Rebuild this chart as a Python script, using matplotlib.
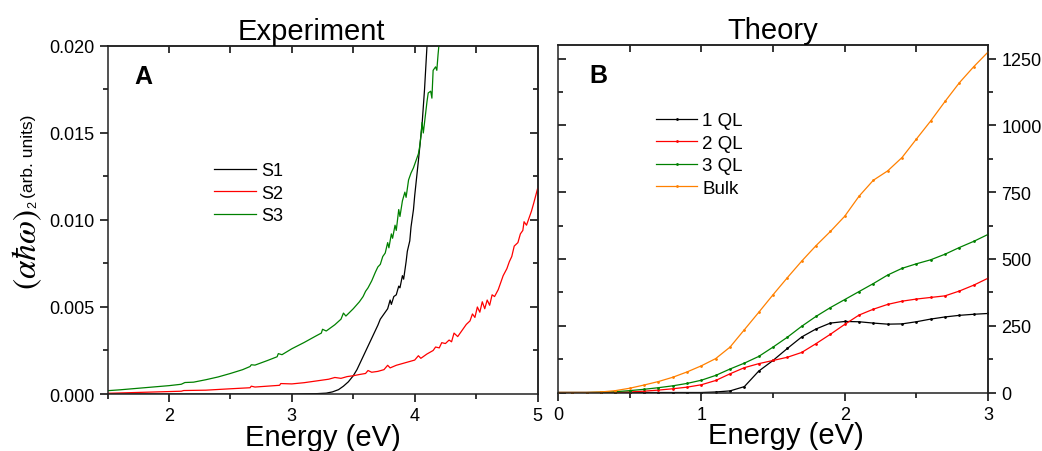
import matplotlib
matplotlib.use("Agg")
import matplotlib.pyplot as plt
from matplotlib.ticker import MultipleLocator, FormatStrFormatter

plt.rcParams['font.family'] = ['Liberation Sans', 'DejaVu Sans']
plt.rcParams['axes.linewidth'] = 1.1
plt.rcParams['axes.edgecolor'] = '#222222'

# ---------------- experiment data ----------------
s1_e = [1.50, 3.00, 3.20, 3.28, 3.33, 3.38, 3.42, 3.46, 3.50, 3.53, 3.56, 3.59,
        3.62, 3.65, 3.68, 3.70, 3.72, 3.74, 3.76, 3.78, 3.80, 3.81, 3.83, 3.85,
        3.87, 3.88, 3.90, 3.91, 3.93, 3.94, 3.96, 3.97, 3.99, 4.00, 4.03, 4.06,
        4.08, 4.10, 4.11]
s1_y = [0.0, 0.0, 0.00002, 0.00005, 0.00012, 0.00025, 0.00045, 0.00070, 0.00105,
        0.00140, 0.00185, 0.00230, 0.00275, 0.00320, 0.00365, 0.00395, 0.00430,
        0.00450, 0.00470, 0.00490, 0.00540, 0.00515, 0.00560, 0.00570, 0.00620,
        0.00610, 0.00680, 0.00660, 0.00760, 0.00820, 0.00880, 0.00960, 0.01060,
        0.01140, 0.01340, 0.01550, 0.01750, 0.02000, 0.02100]

s2_e = [1.50, 1.70, 1.90, 2.10, 2.12, 2.30, 2.50, 2.66, 2.67, 2.70, 2.90, 2.91,
        3.00, 3.10, 3.20, 3.30, 3.35, 3.40, 3.45, 3.50, 3.55, 3.60, 3.62, 3.65,
        3.70, 3.75, 3.78, 3.80, 3.85, 3.90, 3.95, 4.00, 4.03, 4.05, 4.10, 4.15,
        4.17, 4.20, 4.22, 4.25, 4.28, 4.30, 4.32, 4.35, 4.38, 4.40, 4.42, 4.45,
        4.47, 4.49, 4.51, 4.53, 4.55, 4.57, 4.59, 4.61, 4.63, 4.65, 4.68, 4.70,
        4.72, 4.75, 4.77, 4.79, 4.81, 4.84, 4.86, 4.88, 4.89, 4.91, 4.93, 4.95,
        4.97, 5.00]
s2_y = [0.00004, 0.00008, 0.00012, 0.00016, 0.00020, 0.00022, 0.00030, 0.00036,
        0.00045, 0.00040, 0.00050, 0.00060, 0.00058, 0.00065, 0.00075, 0.00085,
        0.00095, 0.00090, 0.00100, 0.00105, 0.00112, 0.00118, 0.00135, 0.00125,
        0.00130, 0.00140, 0.00165, 0.00150, 0.00165, 0.00175, 0.00185, 0.00195,
        0.00220, 0.00205, 0.00230, 0.00250, 0.00270, 0.00265, 0.00295, 0.00290,
        0.00310, 0.00300, 0.00350, 0.00330, 0.00360, 0.00380, 0.00400, 0.00420,
        0.00460, 0.00440, 0.00500, 0.00470, 0.00530, 0.00490, 0.00540, 0.00510,
        0.00570, 0.00560, 0.00600, 0.00640, 0.00680, 0.00720, 0.00760, 0.00790,
        0.00850, 0.00870, 0.00920, 0.00940, 0.00990, 0.00970, 0.01010, 0.01050,
        0.01100, 0.01180]

s3_e = [1.50, 1.60, 1.70, 1.80, 1.90, 2.00, 2.10, 2.13, 2.20, 2.30, 2.40, 2.50,
        2.60, 2.66, 2.67, 2.70, 2.80, 2.88, 2.89, 2.92, 3.00, 3.10, 3.20, 3.24,
        3.25, 3.28, 3.35, 3.40, 3.42, 3.44, 3.50, 3.55, 3.58, 3.60, 3.62, 3.65,
        3.68, 3.70, 3.72, 3.74, 3.76, 3.78, 3.79, 3.81, 3.82, 3.84, 3.85, 3.87,
        3.88, 3.90, 3.92, 3.93, 3.95, 3.97, 3.99, 4.01, 4.03, 4.04, 4.05, 4.06,
        4.07, 4.08, 4.10, 4.11, 4.13, 4.14, 4.15, 4.17, 4.18, 4.19, 4.21]
s3_y = [0.00019, 0.00024, 0.00030, 0.00036, 0.00042, 0.00048, 0.00056, 0.00066,
        0.00068, 0.00082, 0.00098, 0.00118, 0.00140, 0.00158, 0.00168, 0.00166,
        0.00192, 0.00214, 0.00232, 0.00226, 0.00260, 0.00296, 0.00335, 0.00350,
        0.00372, 0.00362, 0.00398, 0.00430, 0.00465, 0.00448, 0.00490, 0.00530,
        0.00560, 0.00590, 0.00610, 0.00650, 0.00700, 0.00730, 0.00745, 0.00790,
        0.00810, 0.00870, 0.00840, 0.00920, 0.00895, 0.00970, 0.00940, 0.01060,
        0.01020, 0.01110, 0.01160, 0.01130, 0.01230, 0.01270, 0.01300, 0.01340,
        0.01380, 0.01420, 0.01480, 0.01560, 0.01500, 0.01560, 0.01680, 0.01730,
        0.01740, 0.01700, 0.01860, 0.01880, 0.01860, 0.01950, 0.02100]

# ---------------- theory data ----------------
th_e = [0.0, 0.1, 0.2, 0.3, 0.4, 0.5, 0.6, 0.7, 0.8, 0.9, 1.0, 1.1, 1.2, 1.3, 1.4,
        1.5, 1.6, 1.7, 1.8, 1.9, 2.0, 2.1, 2.2, 2.3, 2.4, 2.5, 2.6, 2.7, 2.8, 2.9, 3.0]
ql1 = [0, 0, 0, 0, 0, 0, 0, 0, 0, 0, 0, 2, 6, 22, 80, 120, 165, 208, 238, 260,
       266, 265, 260, 256, 257, 265, 275, 283, 289, 293, 296]
ql2 = [0, 0, 0, 0, 0, 2, 5, 9, 14, 20, 29, 45, 70, 93, 108, 120, 132, 150, 183,
       218, 255, 290, 312, 330, 342, 350, 356, 362, 380, 402, 428]
ql3 = [0, 0, 0, 1, 3, 7, 12, 18, 25, 34, 46, 64, 88, 110, 135, 170, 207, 248, 285,
       318, 348, 378, 408, 440, 465, 482, 497, 518, 543, 566, 592]
bulk = [0, 0, 0, 2, 7, 16, 28, 41, 57, 77, 100, 127, 170, 235, 300, 366, 430, 492,
        550, 603, 660, 735, 795, 830, 880, 949, 1017, 1090, 1160, 1220, 1275]

BLACK, RED, GREEN, ORANGE = '#000000', '#ff0000', '#008000', '#ff8000'

fig = plt.figure(figsize=(10.42, 4.52), dpi=100)
ax1 = fig.add_axes([0.1032, 0.1261, 0.4127, 0.770])
ax2 = fig.add_axes([0.5355, 0.1294, 0.4127, 0.768])

# ---------- panel A ----------
ax1.plot(s1_e, s1_y, color=BLACK, lw=0.9, label='S1')
ax1.plot(s2_e, s2_y, color=RED, lw=0.9, label='S2')
ax1.plot(s3_e, s3_y, color=GREEN, lw=0.9, label='S3')
ax1.set_xlim(1.5, 5)
ax1.set_ylim(0, 0.020)
ax1.set_xticks([2, 3, 4, 5])
ax1.xaxis.set_minor_locator(MultipleLocator(0.5))
ax1.yaxis.set_major_locator(MultipleLocator(0.005))
ax1.yaxis.set_minor_locator(MultipleLocator(0.0025))
ax1.yaxis.set_major_formatter(FormatStrFormatter('%.3f'))
ax1.tick_params(which='major', direction='out', length=6, width=1.1, labelsize=13)
ax1.tick_params(which='minor', direction='out', length=3.5, width=1.1)
ax1.set_title('Experiment', fontsize=21, pad=5, x=0.475)
ax1.set_xlabel('Energy (eV)', fontsize=21, labelpad=-1)
ax1.text(0.062, 0.915, 'A', transform=ax1.transAxes, fontsize=18,
         fontweight='bold', va='center')
ax1.legend(loc='upper left', bbox_to_anchor=(0.248, 0.666), frameon=False,
           fontsize=13, handlelength=2.3, handletextpad=0.28, labelspacing=0.3,
           borderaxespad=0, borderpad=0)

top1 = ax1.secondary_xaxis('top')
top1.set_xticks([2, 2.5, 3, 3.5, 4, 4.5])
top1.tick_params(direction='in', length=5, width=1.1, labeltop=False)
right1 = ax1.secondary_yaxis('right')
right1.set_yticks([0.005, 0.010, 0.015])
right1.set_yticks([0.0025, 0.0075, 0.0125, 0.0175], minor=True)
right1.tick_params(which='major', direction='in', length=6, width=1.1, labelright=False)
right1.tick_params(which='minor', direction='in', length=3.5, width=1.1)

# y label: big (αℏω), small superscript 2 and "(arb. units)"
fig.text(0.026, 0.358, r'$(\alpha\hbar\omega)$', rotation=90, fontsize=24,
         ha='center', va='bottom', math_fontfamily='stix')
fig.text(0.032, 0.548, '2', rotation=90, fontsize=9, ha='center', va='center')
fig.text(0.027, 0.563, '(arb. units)', rotation=90, fontsize=12.5,
         ha='center', va='bottom')

# ---------- panel B ----------
mk = dict(lw=0.9, marker='.', ms=2)
ax2.plot(th_e, ql1, color=BLACK, label='1 QL', **mk)
ax2.plot(th_e, ql2, color=RED, label='2 QL', **mk)
ax2.plot(th_e, ql3, color=GREEN, label='3 QL', **mk)
ax2.plot(th_e, bulk, color=ORANGE, label='Bulk', **mk)
ax2.set_xlim(0, 3)
ax2.set_ylim(0, 1300)
ax2.set_xticks([0, 1, 2, 3])
ax2.xaxis.set_minor_locator(MultipleLocator(0.5))
ax2.yaxis.set_major_locator(MultipleLocator(250))
ax2.yaxis.set_minor_locator(MultipleLocator(125))
ax2.tick_params(axis='x', which='major', direction='out', length=6, width=1.1, labelsize=13)
ax2.tick_params(axis='x', which='minor', direction='out', length=3.5, width=1.1)
ax2.tick_params(axis='y', which='major', direction='in', length=6, width=1.1,
                labelleft=False)
ax2.tick_params(axis='y', which='minor', direction='in', length=3.5, width=1.1)
ax2.set_title('Theory', fontsize=21, pad=5)
ax2.set_xlabel('Energy (eV)', fontsize=21, labelpad=-1, x=0.53)
ax2.text(0.072, 0.915, 'B', transform=ax2.transAxes, fontsize=18,
         fontweight='bold', va='center')
ax2.legend(loc='upper left', bbox_to_anchor=(0.228, 0.807), frameon=False,
           fontsize=13.5, handlelength=2.2, handletextpad=0.27, labelspacing=0.28,
           borderaxespad=0, borderpad=0)

top2 = ax2.secondary_xaxis('top')
top2.set_xticks([0.5, 1, 1.5, 2, 2.5])
top2.tick_params(direction='in', length=5, width=1.1, labeltop=False)
right2 = ax2.secondary_yaxis('right')
right2.set_yticks([0, 250, 500, 750, 1000, 1250])
right2.set_yticks([125, 375, 625, 875, 1125], minor=True)
right2.tick_params(which='major', direction='out', length=6, width=1.1, labelsize=13)
right2.tick_params(which='minor', direction='out', length=3.5, width=1.1)

fig.savefig('out.png', dpi=100)
